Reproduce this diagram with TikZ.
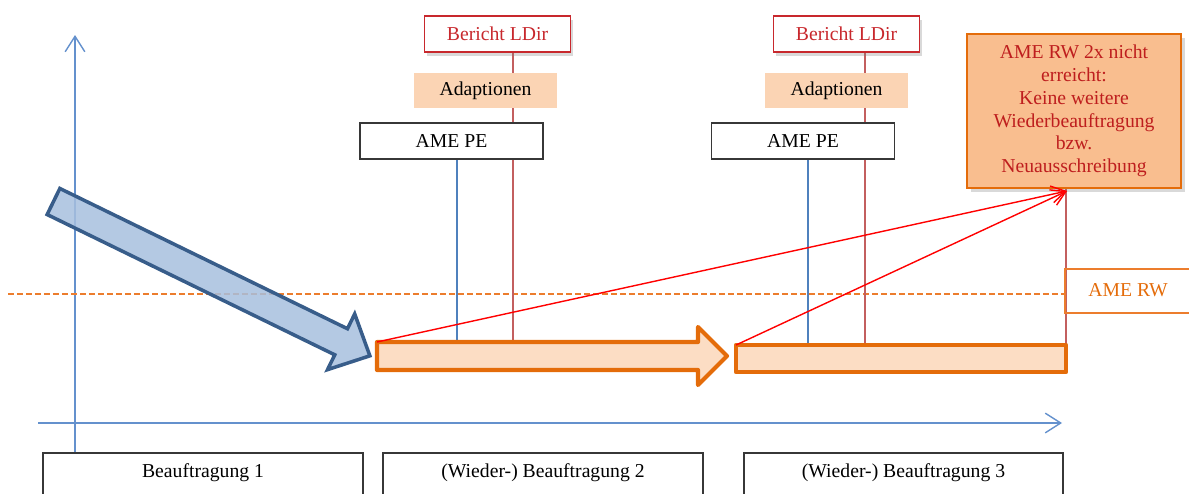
\documentclass[tikz,border=0pt]{standalone}
\usepackage{fontspec}
\setmainfont{Liberation Serif}
\usetikzlibrary{arrows.meta,shadows,backgrounds,calc}
\definecolor{axisblue}{RGB}{100,145,205}
\definecolor{lineblue}{RGB}{79,129,189}
\definecolor{linered}{RGB}{195,95,95}
\definecolor{dashorange}{RGB}{236,125,45}
\definecolor{barorange}{RGB}{228,108,10}
\definecolor{barfill}{RGB}{252,221,196}
\definecolor{arrowfill}{RGB}{167,191,222}
\definecolor{arrowline}{RGB}{56,93,138}
\definecolor{adaptfill}{RGB}{251,212,180}
\definecolor{boxfill}{RGB}{249,190,143}
\definecolor{berichtred}{RGB}{200,40,45}
\definecolor{darkred}{RGB}{190,30,30}
\definecolor{boxgray}{RGB}{55,55,55}
\begin{document}
\begin{tikzpicture}[x=0.025cm,y=-0.025cm,
  font=\fontsize{14}{16.2}\selectfont,
  berichtbox/.style={draw=berichtred, line width=1.2pt, fill=white, text=berichtred,
    minimum width=3.65cm, minimum height=0.9cm, inner sep=0pt,
    drop shadow={shadow xshift=2pt, shadow yshift=-2.5pt, opacity=0.3}},
  adaptbox/.style={fill=adaptfill, minimum width=3.575cm, minimum height=0.875cm, inner sep=0pt},
  amebox/.style={draw=boxgray, line width=1.2pt, fill=white, minimum width=4.575cm,
    minimum height=0.9cm, inner sep=0pt},
  phasebox/.style={draw=boxgray, line width=1.2pt, fill=white, minimum width=8cm,
    minimum height=1.5cm, inner sep=0pt},
  phasetext/.style={text=black, inner sep=0pt},
  axisline/.style={draw=axisblue, line width=1pt, -{Straight Barb[length=11pt,width=14pt]}},
  blueline/.style={draw=lineblue, line width=0.8pt},
  redline/.style={draw=linered, line width=0.8pt},
  dashline/.style={draw=dashorange, line width=0.9pt, dash pattern=on 4pt off 2.4pt},
  barstyle/.style={draw=barorange, fill=barfill, line width=3pt, line join=round},
  redarrow/.style={draw=red, line width=1pt, -{Straight Barb[length=10pt,width=12pt]}}
]
\useasboundingbox (0,0) rectangle (1189,493);
\clip (0,0) rectangle (1189,493);

% boxes
\node[berichtbox] (ber1) at (497.5,34) {Bericht LDir};
\node[berichtbox] (ber2) at (846.5,34) {Bericht LDir};
\node[adaptbox] (ad1) at (485.5,90.5) {Adaptionen};
\node[adaptbox] (ad2) at (836.5,90.5) {Adaptionen};
\node[amebox] (pe1) at (451.5,141) {AME PE};
\node[amebox] (pe2) at (803,141) {AME PE};
\node[draw=barorange, line width=1.2pt, fill=boxfill, text=darkred, align=center,
  minimum width=5.35cm, minimum height=3.85cm, inner sep=0pt,
  drop shadow={shadow xshift=2.5pt, shadow yshift=-3pt, opacity=0.3}]
  (ziel) at (1074,111) {AME RW 2x nicht\\erreicht:\\Keine weitere\\Wiederbeauftragung\\bzw.\\Neuausschreibung};

\node[phasebox] (ph1) at (203,483) {};
\node[phasebox] (ph2) at (543,483) {};
\node[phasebox, minimum width=7.975cm] (ph3) at (903.5,483) {};
\node[phasetext] (pt1) at (203,473) {Beauftragung 1};
\node[phasetext] (pt2) at (543,473) {(Wieder-) Beauftragung 2};
\node[phasetext] (pt3) at (903.5,473) {(Wieder-) Beauftragung 3};

% AME RW label box
\coordinate (rwtl) at (1065,269);
\coordinate (rwbl) at (1065,313);
\draw[draw=dashorange, line width=1pt] (1200,269) -- (rwtl) -- (rwbl) -- (1200,313);
\node[text=barorange, inner sep=0pt] (rw) at (1128,290) {AME RW};

% bar corners
\coordinate (bar1nw) at (377,342);
\coordinate (bar2nw) at (736,345);
\coordinate (bar2ne) at (1066,345);
\coordinate (tip) at (1067,191);

\begin{pgfonlayer}{background}
  % axes
  \coordinate (vaxtop) at (75,35);
  \coordinate (haxend) at (1062,423);
  \draw[axisline] (ph1.north -| vaxtop) -- (vaxtop);
  \draw[axisline] (38,423) coordinate (haxstart) -- (haxend);
  % dashed line
  \draw[dashline] (8,294) -- (rwtl |- 0,294);
  % vertical lines
  \draw[redline] ($(ber1.south)+(15.5,0)$) coordinate (r1) -- (r1 |- bar1nw);
  \draw[redline] ($(ber2.south)+(18.5,0)$) coordinate (r2) -- (r2 |- bar2nw);
  \draw[blueline] ($(pe1.south)+(5.5,0)$) coordinate (bl1) -- (bl1 |- bar1nw);
  \draw[blueline] ($(pe2.south)+(5,0)$) coordinate (bl2) -- (bl2 |- bar2nw);
  \draw[redline] (ziel.south -| bar2ne) -- (bar2ne);
\end{pgfonlayer}

% bars
\draw[barstyle] (bar1nw) -- (698,342) -- (698,327) -- (727,356) -- (698,385) -- (698,370) -- (377,370) -- cycle;
\draw[barstyle] (bar2nw) rectangle (1066,372);

% big blue arrow
\begin{scope}[shift={(53.5,201.5)}, rotate=-26]
  \draw[draw=arrowline, fill=arrowfill, fill opacity=0.85, line width=2.5pt, line join=miter]
    (0,-14.5) -- (320,-14.5) -- (320,-31) -- (352,0) -- (320,31) -- (320,14.5) -- (0,14.5) -- cycle;
\end{scope}

% red arrows
\draw[redarrow] (bar1nw) -- (tip);
\draw[redarrow] (bar2nw) -- (tip);
\end{tikzpicture}
\end{document}
